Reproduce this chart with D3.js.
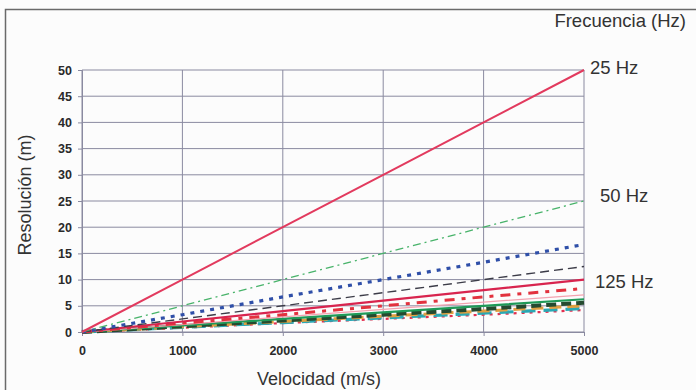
<!DOCTYPE html>
<html>
<head>
<meta charset="utf-8">
<script src="https://cdn.jsdelivr.net/npm/d3@7"></script>
<style>
  body { margin: 0; background: #fff; }
  svg { font-family: "Liberation Sans", Arial, sans-serif; }
  .grid line { stroke: #8a8aa0; stroke-width: 1; }
  .tick text { fill: #2a2a2a; font-size: 12.5px; font-weight: bold; }
</style>
</head>
<body>
<svg width="696" height="390"></svg>
<script>
  // velocidades (m/s) y resolucion (m)
  const velocidades = [0, 1000, 2000, 3000, 4000, 5000];
  const frecuencias = [25, 50, 75, 100, 125, 150, 175, 200, 225, 250, 275, 300];
  const resoluciones = [
    [0, 10, 20, 30, 40, 50],
    [0, 5, 10, 15, 20, 25],
    [0, 3.3, 6.7, 10, 13.3, 16.7],
    [0, 2.5, 5, 7.5, 10, 12.5],
    [0, 2, 4, 6, 8, 10],
    [0, 1.7, 3.3, 5, 6.7, 8.3],
    [0, 1.4, 2.9, 4.3, 5.7, 7.1],
    [0, 1.25, 2.5, 3.75, 5, 6.25],
    [0, 1.1, 2.2, 3.3, 4.4, 5.6],
    [0, 1, 2, 3, 4, 5],
    [0, 0.9, 1.8, 2.7, 3.6, 4.5],
    [0, 0.8, 1.7, 2.5, 3.3, 4.2]
  ];
  const xTicks = [0, 1000, 2000, 3000, 4000, 5000];
  const yTicks = [0, 5, 10, 15, 20, 25, 30, 35, 40, 45, 50];
  const etiquetas = [
    { f: 25, texto: '25 Hz' },
    { f: 50, texto: '50 Hz' },
    { f: 125, texto: '125 Hz' }
  ];

  const estilos = [
    { color: '#e23a5e', width: 2, dash: null },
    { color: '#48b36a', width: 1.3, dash: '8,4,2,4' },
    { color: '#2f4fa8', width: 3.2, dash: '4,6' },
    { color: '#3c3c48', width: 1.4, dash: '9,5' },
    { color: '#d8244e', width: 2.2, dash: null },
    { color: '#e2323e', width: 3, dash: '10,7,4,7' },
    { color: '#f2a3b0', width: 1.3, dash: null },
    { color: '#1f9a58', width: 2.2, dash: null },
    { color: '#254a30', width: 4, dash: '10,5' },
    { color: '#e0a040', width: 3, dash: '12,6' },
    { color: '#2aa8b4', width: 3.2, dash: '14,8' },
    { color: '#e23050', width: 2.2, dash: '3,5' }
  ];

  const svg = d3.select('svg');
  const margin = { top: 70, right: 112, bottom: 58, left: 82 };
  const width = 696 - margin.left - margin.right;
  const height = 390 - margin.top - margin.bottom;

  // marco de la imagen
  svg.append('rect').attr('x', 0).attr('y', 0).attr('width', 696).attr('height', 390).attr('fill', '#fcfcfc');
  svg.append('path').attr('d', 'M5.5,390 V9.5 H696').attr('fill', 'none').attr('stroke', '#6a6a6a').attr('stroke-width', 1.5);

  const g = svg.append('g').attr('transform', `translate(${margin.left},${margin.top})`);

  const x = d3.scaleLinear().domain([0, 5000]).range([0, width]);
  const y = d3.scaleLinear().domain([0, 50]).range([height, 0]);

  g.append('g').attr('class', 'grid')
    .selectAll('line').data(yTicks).join('line')
      .attr('x1', 0).attr('x2', width)
      .attr('y1', d => y(d)).attr('y2', d => y(d));
  g.append('g').attr('class', 'grid')
    .selectAll('line').data(xTicks).join('line')
      .attr('y1', 0).attr('y2', height)
      .attr('x1', d => x(d)).attr('x2', d => x(d));

  const xAxis = g.append('g').attr('transform', `translate(0,${height})`)
    .call(d3.axisBottom(x).tickValues(xTicks).tickFormat(d3.format('d')).tickSize(4).tickPadding(10));
  const yAxis = g.append('g')
    .call(d3.axisLeft(y).tickValues(yTicks).tickSize(4).tickPadding(6));
  [xAxis, yAxis].forEach(a => {
    a.select('.domain').attr('stroke', '#8a8aa0');
    a.selectAll('.tick line').attr('stroke', '#8a8aa0');
  });

  const line = d3.line()
    .x((d, i) => x(velocidades[i]))
    .y(d => y(d));

  g.selectAll('.serie')
    .data(resoluciones.slice().reverse())
    .join('path')
      .attr('class', 'serie')
      .attr('d', line)
      .attr('fill', 'none')
      .attr('stroke', (d, i) => estilos[resoluciones.length - 1 - i].color)
      .attr('stroke-width', (d, i) => estilos[resoluciones.length - 1 - i].width)
      .attr('stroke-dasharray', (d, i) => estilos[resoluciones.length - 1 - i].dash);

  // etiquetas de frecuencia
  const offsets = { 25: [6, -2], 50: [16, -5], 125: [11, 2] };
  g.selectAll('.etq')
    .data(etiquetas)
    .join('text')
      .attr('class', 'etq')
      .attr('x', d => width + offsets[d.f][0])
      .attr('y', d => y(resoluciones[frecuencias.indexOf(d.f)][5]) + offsets[d.f][1])
      .attr('dy', '0.35em')
      .attr('font-size', 18.5)
      .attr('fill', '#333')
      .text(d => d.texto);

  svg.append('text')
    .attr('x', 686).attr('y', 27)
    .attr('text-anchor', 'end')
    .attr('font-size', 18.5).attr('fill', '#333')
    .text('Frecuencia (Hz)');

  svg.append('text')
    .attr('x', margin.left + width / 2 - 14).attr('y', 385)
    .attr('text-anchor', 'middle')
    .attr('font-size', 18).attr('fill', '#333')
    .text('Velocidad (m/s)');

  svg.append('text')
    .attr('transform', `translate(31,${margin.top + height / 2 - 6}) rotate(-90)`)
    .attr('text-anchor', 'middle')
    .attr('font-size', 18).attr('fill', '#333')
    .text('Resolución (m)');
</script>
</body>
</html>
